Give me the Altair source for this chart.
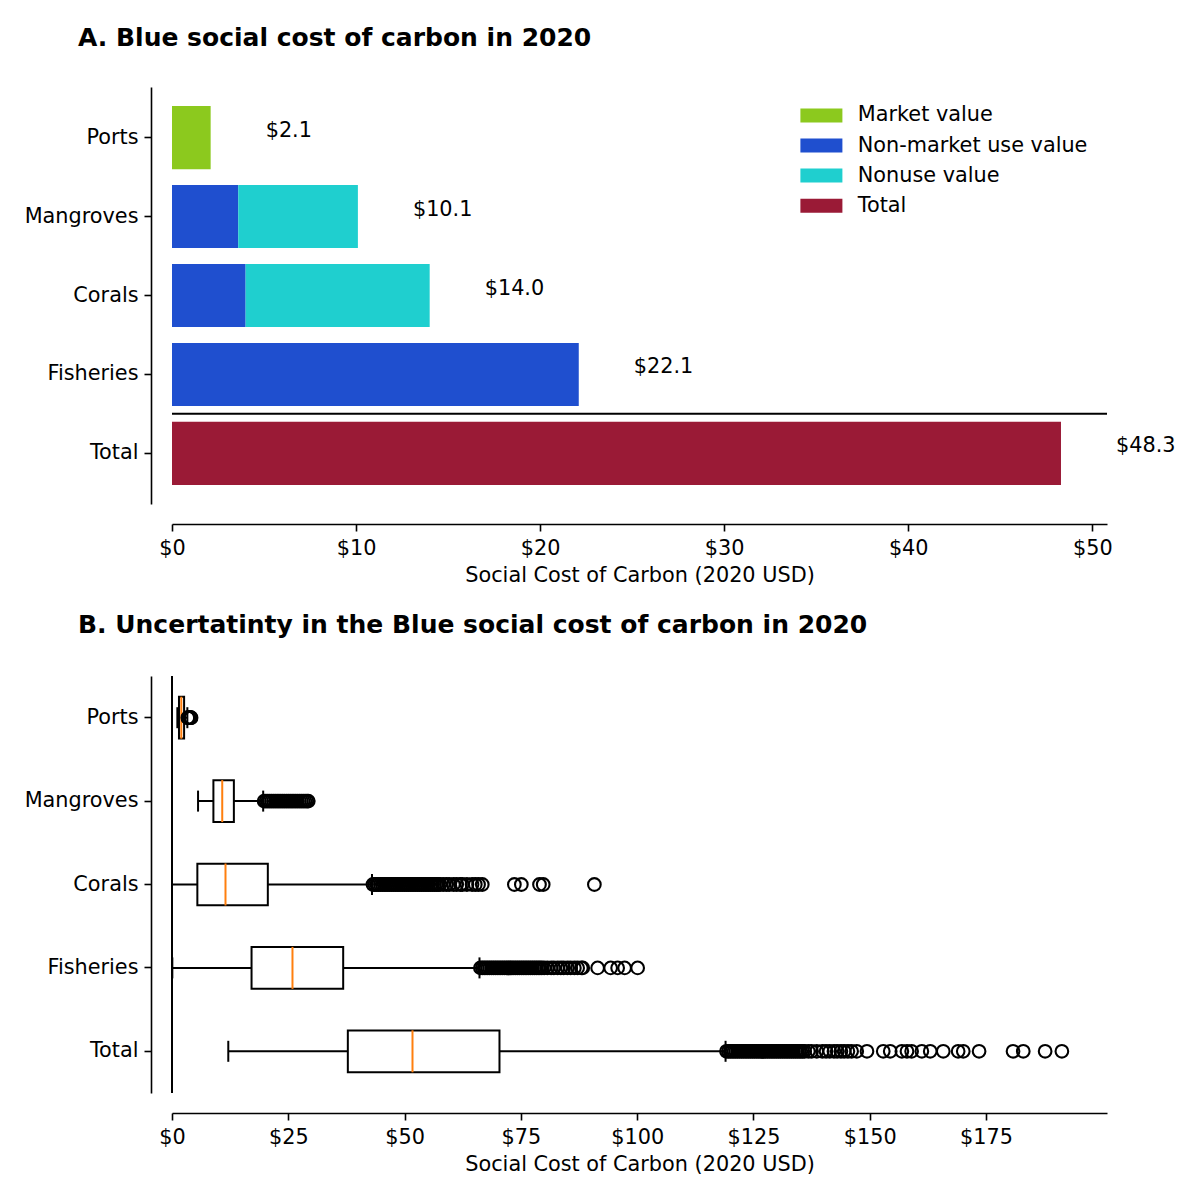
import altair as alt
import pandas as pd

FONT = "DejaVu Sans"
FS = 20.8

# ---------------- data ----------------
categories = ["Ports", "Mangroves", "Corals", "Fisheries", "Total"]
components = ["Market value", "Non-market use value", "Nonuse value", "Total"]
component_colors = ["#8CC91E", "#1F4FCF", "#1FCFCF", "#9A1A36"]

market_value = [2.1, 0.0, 0.0, 0.0, 0.0]
nonmarket_use_value = [0.0, 3.6, 4.0, 22.1, 0.0]
nonuse_value = [0.0, 6.5, 10.0, 0.0, 0.0]
total_value = [0.0, 0.0, 0.0, 0.0, 48.3]
label_values = [2.1, 10.1, 14.0, 22.1, 48.3]
separator_before = ["Total"]

ticks_a = [0, 10, 20, 30, 40, 50]
domain_a = [0, 50.8]

# panel B box statistics
whisker_low = [1.15, 5.6, 0.0, 0.07, 12.1]
quartile_1 = [1.5, 8.9, 5.45, 17.1, 37.8]
median = [2.0, 10.8, 11.5, 25.9, 51.7]
quartile_3 = [2.6, 13.3, 20.6, 36.8, 70.4]
whisker_high = [3.3, 19.6, 43.0, 66.1, 119.0]

outliers_ports = [3.4, 3.5, 3.6, 3.7, 3.8, 3.9, 4.0, 4.1]
outliers_mangroves = [19.8, 20.2, 20.6, 21.0, 21.4, 21.8, 22.2, 22.6, 23.0, 23.4,
                      23.8, 24.2, 24.6, 25.0, 25.4, 25.8, 26.2, 26.6, 27.0, 27.4,
                      27.8, 28.2, 28.6, 29.0, 29.3]
outliers_corals = [43.2, 43.6, 44.0, 44.4, 44.8, 45.2, 45.6, 46.0, 46.4, 46.8,
                   47.2, 47.6, 48.0, 48.4, 48.8, 49.2, 49.6, 50.0, 50.4, 50.8,
                   51.2, 51.6, 52.0, 52.4, 52.8, 53.2, 53.6, 54.0, 54.4, 54.8,
                   55.2, 55.6, 56.0, 56.4, 56.8, 57.2, 57.6, 58.3, 59.0, 59.6,
                   60.5, 61.2, 62.0, 62.4, 63.4, 64.5, 65.2, 65.9, 66.7, 73.6,
                   75.1, 79.0, 79.8, 90.8]
outliers_fisheries = [66.3, 66.7, 67.1, 67.5, 67.9, 68.3, 68.7, 69.1, 69.5, 69.9,
                      70.3, 70.7, 71.1, 71.5, 71.9, 72.3, 72.7, 73.1, 73.5, 73.9,
                      74.3, 74.7, 75.1, 75.5, 75.9, 76.3, 76.7, 77.1, 77.5, 77.9,
                      78.3, 78.7, 79.1, 79.5, 80.0, 80.7, 81.5, 82.1, 82.9, 83.6,
                      84.2, 85.0, 85.7, 86.5, 87.2, 88.0, 88.3, 91.5, 94.3, 95.8,
                      97.3, 100.1]
outliers_total = [119.2, 119.6, 120.0, 120.4, 120.8, 121.2, 121.6, 122.0, 122.4, 122.8,
                  123.2, 123.6, 124.0, 124.4, 124.8, 125.2, 125.6, 126.0, 126.4, 126.8,
                  127.2, 127.6, 128.0, 128.4, 128.8, 129.2, 129.6, 130.0, 130.4, 130.8,
                  131.2, 131.6, 132.0, 132.4, 132.8, 133.2, 133.6, 134.0, 134.4, 134.8,
                  135.2, 135.6, 136.0, 136.8, 137.5, 138.6, 139.8, 140.6, 141.4, 142.3,
                  143.0, 143.8, 144.5, 145.3, 146.1, 147.2, 149.4, 152.9, 154.4, 156.9,
                  158.0, 159.0, 161.2, 163.0, 165.8, 169.0, 170.1, 173.5, 180.8, 183.0,
                  187.7, 191.3]
zero_line = [0]

ticks_b = [0, 25, 50, 75, 100, 125, 150, 175]
domain_b = [0, 201]

# ---------------- tables ----------------
series = [market_value, nonmarket_use_value, nonuse_value, total_value]
bar_rows = []
for i, c in enumerate(categories):
    for j, comp in enumerate(components):
        v = series[j][i]
        if v > 0:
            bar_rows.append({"cat": c, "comp": comp, "ord": j, "value": v})
bars_df = pd.DataFrame(bar_rows)
labels_df = pd.DataFrame({"cat": categories, "value": label_values})
sep_df = pd.DataFrame({"cat": separator_before})

stats_df = pd.DataFrame({"cat": categories, "lw": whisker_low, "q1": quartile_1,
                         "med": median, "q3": quartile_3, "uw": whisker_high})
out_rows = []
for c, lst in zip(categories, [outliers_ports, outliers_mangroves, outliers_corals,
                               outliers_fisheries, outliers_total]):
    for v in lst:
        out_rows.append({"cat": c, "value": v})
out_df = pd.DataFrame(out_rows)
zero_df = pd.DataFrame({"v": zero_line})

# ---------------- axes ----------------
common_axis = dict(tickSize=7, tickWidth=1.6, domainWidth=1.6, domainColor="black",
                   tickColor="black", labelColor="black", labelFontSize=FS,
                   labelFont=FONT, grid=False)

y_axis = alt.Axis(title=None, offset=21, labelPadding=6, **common_axis)


def x_axis(values):
    return alt.Axis(title="Social Cost of Carbon (2020 USD)", values=values,
                    labelExpr="'$' + datum.label", offset=20, labelPadding=7,
                    labelFlush=False, titlePadding=8, titleFontSize=FS, titleFont=FONT,
                    titleFontWeight="normal", titleColor="black", **common_axis)


def title(text, offset):
    return alt.TitleParams(text=text, fontSize=25, fontWeight="bold", font=FONT,
                           anchor="start", frame="group", dx=-94, offset=offset,
                           color="black")


W, H = 935, 417

# ---------------- panel A ----------------
y_a_scale = alt.Scale(domain=categories, paddingInner=0.2, paddingOuter=0.24)
x_a_scale = alt.Scale(domain=domain_a, nice=False, zero=False)

bars = alt.Chart(bars_df).mark_bar().encode(
    x=alt.X("value:Q", stack="zero", scale=x_a_scale, axis=x_axis(ticks_a)),
    y=alt.Y("cat:N", scale=y_a_scale, axis=y_axis),
    color=alt.Color("comp:N", scale=alt.Scale(domain=components, range=component_colors),
                    legend=alt.Legend(title=None, orient="none", legendX=639, legendY=18,
                                      direction="vertical",
                                      symbolType="M-3,-1H3V1H-3Z", symbolSize=196,
                                      symbolStrokeWidth=0, symbolOpacity=1,
                                      labelFontSize=FS, labelFont=FONT, labelColor="black",
                                      labelLimit=0, labelOffset=26, rowPadding=8.1,
                                      padding=0)),
    order=alt.Order("ord:Q"),
)

texts = alt.Chart(labels_df).mark_text(align="left", baseline="middle", dx=55, dy=-7,
                                       fontSize=FS, font=FONT, color="black").encode(
    x=alt.X("value:Q", scale=x_a_scale),
    y=alt.Y("cat:N", scale=y_a_scale),
    text=alt.Text("value:Q", format="$.1f"),
)

# separator sits half a band-gap above the start of the "Total" band
sep = alt.Chart(sep_df).mark_rule(color="black", strokeWidth=2, yOffset=-8).encode(
    y=alt.Y("cat:N", scale=y_a_scale, bandPosition=0),
)

panel_a = alt.layer(bars, texts, sep).properties(
    width=W, height=H, title=title("A. Blue social cost of carbon in 2020", 36))

# ---------------- panel B ----------------
y_b_scale = alt.Scale(domain=categories, paddingInner=0.5, paddingOuter=0.25)
x_b_scale = alt.Scale(domain=domain_b, nice=False, zero=False)
y_b = alt.Y("cat:N", scale=y_b_scale, axis=y_axis)

zero_rule = alt.Chart(zero_df).mark_rule(color="black", strokeWidth=2).encode(
    x=alt.X("v:Q", scale=x_b_scale, axis=x_axis(ticks_b)),
)
whisk = alt.Chart(stats_df).mark_rule(color="black", strokeWidth=2).encode(
    x=alt.X("lw:Q", scale=x_b_scale), x2="uw:Q", y=y_b)
box = alt.Chart(stats_df).mark_bar(fill="white", stroke="black", strokeWidth=2).encode(
    x=alt.X("q1:Q", scale=x_b_scale), x2="q3:Q", y=y_b)
med = alt.Chart(stats_df).mark_tick(color="#FF7F0E", thickness=2, size=42, opacity=1).encode(
    x=alt.X("med:Q", scale=x_b_scale), y=y_b)
cap_lo = alt.Chart(stats_df).mark_tick(color="black", thickness=2, size=21, opacity=1).encode(
    x=alt.X("lw:Q", scale=x_b_scale), y=y_b)
cap_hi = alt.Chart(stats_df).mark_tick(color="black", thickness=2, size=21, opacity=1).encode(
    x=alt.X("uw:Q", scale=x_b_scale), y=y_b)
fliers = alt.Chart(out_df).mark_point(shape="circle", filled=False, size=160, strokeWidth=2.1,
                                      color="black", opacity=1).encode(
    x=alt.X("value:Q", scale=x_b_scale), y=y_b)

panel_b = alt.layer(zero_rule, whisk, box, med, cap_lo, cap_hi, fliers).properties(
    width=W, height=H,
    title=title("B. Uncertatinty in the Blue social cost of carbon in 2020", 37))

chart = alt.vconcat(panel_a, panel_b, spacing=27).properties(
    padding={"left": 16, "top": 18, "right": 5, "bottom": 5}
).configure(font=FONT).configure_view(stroke="transparent", strokeWidth=0)

chart.save("out.html", embed_options={"renderer": "svg", "actions": False})
